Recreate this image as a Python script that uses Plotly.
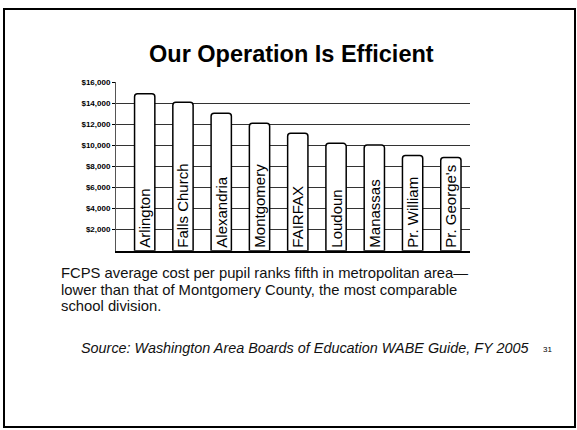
import plotly.graph_objects as go

categories = ["Arlington", "Falls Church", "Alexandria", "Montgomery", "FAIRFAX",
              "Loudoun", "Manassas", "Pr. William", "Pr. George's"]
cost_per_pupil = [14900, 14100, 13050, 12100, 11150, 10200, 10050, 9050, 8850]
tick_values = [2000, 4000, 6000, 8000, 10000, 12000, 14000, 16000]
tick_labels = ["$2,000", "$4,000", "$6,000", "$8,000", "$10,000", "$12,000", "$14,000", "$16,000"]

title_text = "Our Operation Is Efficient"
body_lines = [
    "FCPS average cost per pupil ranks fifth in metropolitan area\u2014",
    "lower than that of Montgomery County, the most comparable",
    "school division.",
]
source_text = "Source: Washington Area Boards of Education WABE Guide, FY 2005"
page_number = "31"

W, H = 577, 430
FONT = "Liberation Sans, Arial, sans-serif"


def px(x):
    return x / W


def py(y):
    return 1 - y / H


fig = go.Figure()
fig.add_trace(go.Bar(
    x=list(range(len(categories))),
    y=cost_per_pupil,
    text=categories,
    textposition="inside",
    insidetextanchor="start",
    textangle=-90,
    constraintext="none",
    textfont=dict(family=FONT, size=15, color="black"),
    marker=dict(color="white", line=dict(color="black", width=1.5), cornerradius=3),
    hoverinfo="skip",
))

fig.update_layout(
    width=W, height=H,
    margin=dict(l=0, r=0, t=0, b=0),
    paper_bgcolor="white", plot_bgcolor="white",
    showlegend=False,
    bargap=0.47,
    font=dict(family=FONT, color="black"),
    xaxis=dict(
        domain=[px(116), px(470)],
        range=[-0.75, 8.5],
        showticklabels=False, showgrid=False, zeroline=False,
        showline=True, linecolor="black", linewidth=2, ticks="",
        fixedrange=True,
    ),
    yaxis=dict(
        domain=[py(249), py(79)],
        range=[0, 16000],
        tickvals=tick_values, ticktext=tick_labels,
        tickfont=dict(family=FONT, size=8, color="black", weight="bold"),
        ticks="outside", ticklen=3, tickcolor="black",
        showgrid=True, gridcolor="#333333", gridwidth=1,
        zeroline=False,
        showline=True, linecolor="#555555", linewidth=1,
        fixedrange=True,
    ),
)

annotations = [
    dict(text=f"<b>{title_text}</b>", x=px(292), y=py(50), xref="paper", yref="paper",
         xanchor="center", yanchor="middle", showarrow=False,
         font=dict(family=FONT, size=23.5, color="black")),
]
for i, line in enumerate(body_lines):
    annotations.append(dict(text=line, x=px(60), y=py(272 + 16.5 * i), xref="paper", yref="paper",
                            xanchor="left", yanchor="middle", showarrow=False, borderpad=0,
                            font=dict(family=FONT, size=14.8, color="#111111")))
annotations.append(dict(text=f"<i>{source_text}</i>", x=px(79), y=py(347), xref="paper", yref="paper",
                        xanchor="left", yanchor="middle", showarrow=False,
                        font=dict(family=FONT, size=14.4, color="#111111")))
annotations.append(dict(text=page_number, x=px(541), y=py(349), xref="paper", yref="paper",
                        xanchor="left", yanchor="middle", showarrow=False,
                        font=dict(family=FONT, size=8, color="black")))
fig.update_layout(annotations=annotations)

fig.add_shape(type="rect", xref="paper", yref="paper",
              x0=px(4), x1=px(575), y0=py(427), y1=py(5),
              line=dict(color="black", width=2), fillcolor="rgba(0,0,0,0)", layer="above")

fig.write_html(
    "out.html",
    config={"displayModeBar": False, "staticPlot": True},
    post_script="document.body.style.margin='0';document.body.style.padding='0';",
)
